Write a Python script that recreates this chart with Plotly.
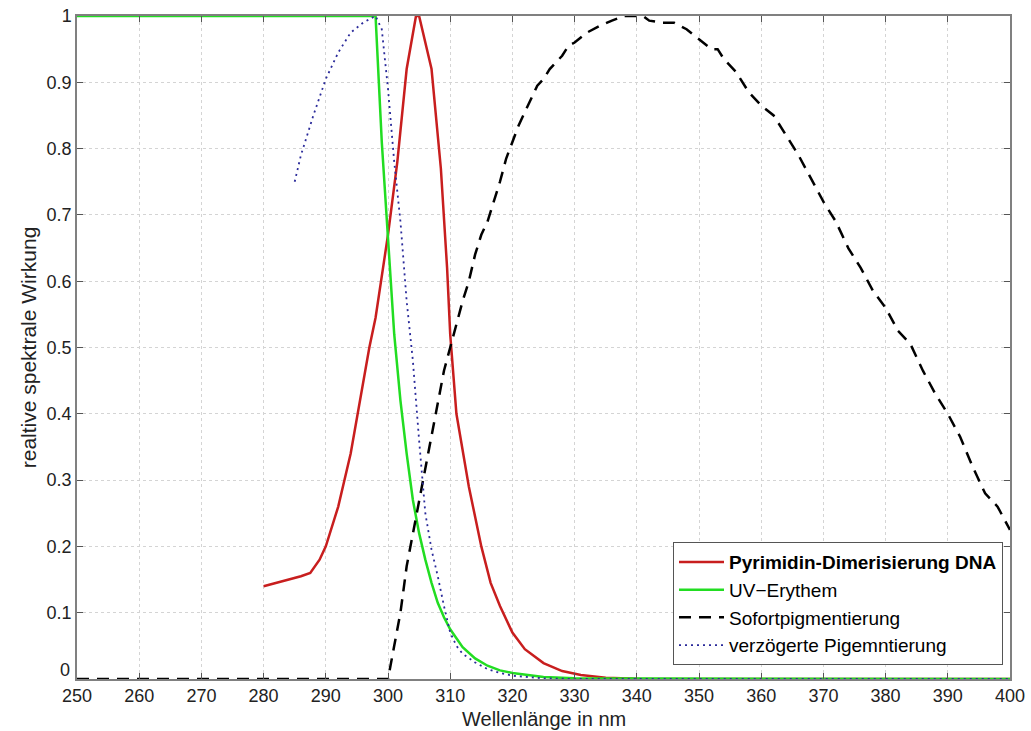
import plotly.graph_objects as go

# Pyrimidin-Dimerisierung DNA
red_x = [280, 283, 286, 287.5, 289, 290, 292, 294, 296, 297, 298, 300, 301.5, 303, 304.5, 305,
         307, 308.5, 309.5, 310, 311, 313, 315, 316.5, 318, 320, 322, 325, 328, 331, 335, 340, 350, 400]
red_y = [0.14, 0.147, 0.155, 0.16, 0.18, 0.2, 0.26, 0.34, 0.445, 0.5, 0.545, 0.67, 0.78, 0.92, 1.0, 1.0,
         0.92, 0.77, 0.62, 0.52, 0.4, 0.29, 0.2, 0.145, 0.11, 0.07, 0.045, 0.024, 0.012, 0.006, 0.002, 0.0005, 0, 0]

# UV-Erythem
green_x = [250, 298, 299, 300, 301, 302, 303, 304, 305, 306, 307, 308, 309, 310, 312, 314, 316, 318, 320,
           325, 330, 340, 400]
green_y = [1, 1, 0.81, 0.66, 0.52, 0.42, 0.34, 0.27, 0.22, 0.18, 0.145, 0.115, 0.093, 0.075, 0.048, 0.031,
           0.02, 0.013, 0.009, 0.003, 0.001, 0.0007, 0.0001]

# Sofortpigmentierung
black_x = [250, 300, 301, 302, 303, 304, 305, 306, 307, 308, 309, 310, 311, 312, 313, 314, 315, 316, 317,
           318, 319, 320, 321, 322, 323, 324, 325, 326, 327, 328, 329, 330, 332, 334, 336, 338, 340, 341,
           342, 344, 346, 348, 350, 352, 353, 354, 356, 358, 360, 362, 364, 366, 368, 370, 372, 374, 376,
           378, 380, 382, 384, 386, 388, 390, 392, 394, 396, 398, 400]
black_y = [0, 0, 0.05, 0.1, 0.17, 0.22, 0.27, 0.32, 0.365, 0.42, 0.465, 0.5, 0.535, 0.57, 0.6, 0.64, 0.67,
           0.69, 0.72, 0.75, 0.785, 0.81, 0.835, 0.855, 0.875, 0.895, 0.905, 0.92, 0.93, 0.94, 0.955, 0.96,
           0.975, 0.985, 0.993, 1.0, 1.0, 1.0, 0.993, 0.99, 0.99, 0.98, 0.965, 0.95, 0.95, 0.935, 0.915,
           0.885, 0.865, 0.85, 0.82, 0.79, 0.755, 0.72, 0.69, 0.65, 0.62, 0.585, 0.56, 0.525, 0.505, 0.465,
           0.43, 0.4, 0.365, 0.32, 0.28, 0.26, 0.225]

# verzögerte Pigmentierung
blue_x = [285, 286, 288, 290, 292, 294, 296, 298, 299, 300, 301, 302, 303, 304, 305, 306, 307, 308, 309,
          310, 311, 312, 314, 316, 318, 320, 325, 330, 400]
blue_y = [0.75, 0.79, 0.85, 0.905, 0.945, 0.975, 0.99, 1.0, 0.98, 0.89, 0.78, 0.69, 0.57, 0.48, 0.36,
          0.25, 0.195, 0.155, 0.11, 0.07, 0.05, 0.038, 0.025, 0.015, 0.009, 0.005, 0.001, 0, 0]

x_ticks = list(range(250, 401, 10))
y_ticks = [0, 0.1, 0.2, 0.3, 0.4, 0.5, 0.6, 0.7, 0.8, 0.9, 1]
y_labels = ["", "0.1", "0.2", "0.3", "0.4", "0.5", "0.6", "0.7", "0.8", "0.9", "1"]
y_zero_label = "0"

fig = go.Figure()
fig.add_trace(go.Scatter(x=red_x, y=red_y, mode="lines", name="<b>Pyrimidin-Dimerisierung DNA</b>",
                         line=dict(color="#c81e1e", width=2.5)))
fig.add_trace(go.Scatter(x=green_x, y=green_y, mode="lines", name="UV\u2212Erythem",
                         line=dict(color="#22dd22", width=2.5)))
fig.add_trace(go.Scatter(x=black_x, y=black_y, mode="lines", name="Sofortpigmentierung",
                         line=dict(color="black", width=2.5, dash="12px,8px")))
fig.add_trace(go.Scatter(x=blue_x, y=blue_y, mode="lines", name="verzögerte Pigemntierung",
                         line=dict(color="#2a2a9a", width=1.8, dash="2px,4px")))

axis_common = dict(
    showline=True, linecolor="#808080", linewidth=1.5, mirror="allticks",
    ticks="inside", ticklen=6, tickcolor="#555555",
    showgrid=True, gridcolor="#d4d4d4", griddash="dot", gridwidth=1,
    zeroline=False, tickfont=dict(size=18, color="#222222"), automargin=False,
)

fig.update_layout(
    width=1031, height=731,
    margin=dict(l=77, r=21, t=16, b=52),
    paper_bgcolor="white", plot_bgcolor="white",
    font=dict(family="Liberation Sans, Arial, sans-serif", color="#222222"),
    xaxis=dict(range=[250, 400], tickvals=x_ticks, ticklabelstandoff=0, **axis_common),
    yaxis=dict(range=[0, 1], tickvals=y_ticks, ticktext=y_labels,
               title=dict(text="realtive spektrale Wirkung", font=dict(size=21), standoff=4), **axis_common),
    legend=dict(x=0.9925, y=0.021, xanchor="right", yanchor="bottom",
                bgcolor="white", bordercolor="#555555", borderwidth=1,
                font=dict(size=19, color="black"), itemwidth=45, tracegroupgap=0),
    annotations=[
        dict(text="Wellenlänge in nm", xref="paper", yref="paper", x=0.5, y=-0.0784,
             xanchor="center", yanchor="bottom", showarrow=False, borderpad=0,
             font=dict(size=20, color="#222222")),
        dict(text=y_zero_label, xref="paper", yref="y", x=0, y=0, xanchor="right", yanchor="middle",
             xshift=-6, yshift=9, showarrow=False, borderpad=0,
             font=dict(size=18, color="#222222")),
    ],
    showlegend=True,
)

fig.write_html("out.html")
